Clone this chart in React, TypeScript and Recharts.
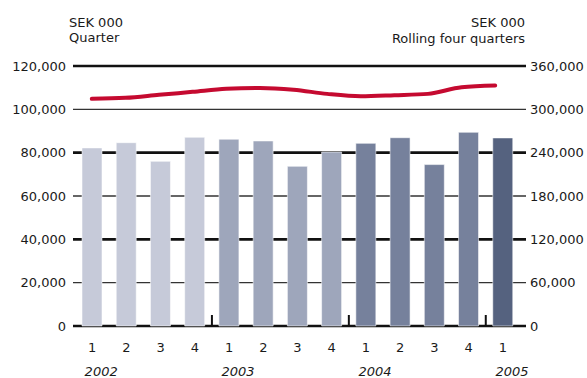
import React from "react";
import { ComposedChart, Bar, Line, XAxis, YAxis, CartesianGrid, Cell } from "recharts";

const periods = [
  "2002-1", "2002-2", "2002-3", "2002-4",
  "2003-1", "2003-2", "2003-3", "2003-4",
  "2004-1", "2004-2", "2004-3", "2004-4",
  "2005-1",
];
const quarterLabels = ["1", "2", "3", "4", "1", "2", "3", "4", "1", "2", "3", "4", "1"];
const yearLabels = ["2002", "", "", "", "2003", "", "", "", "2004", "", "", "", "2005"];
const quarterValues = [82200, 84600, 76000, 87100, 86200, 85400, 73700, 80300, 84300, 86900, 74500, 89400, 86800];
const rollingValues = [314500, 315900, 320100, 324200, 328400, 329700, 327200, 321400, 318100, 319500, 321400, 330600, 333000];
const leftTicks = [0, 20000, 40000, 60000, 80000, 100000, 120000];
const rightTicks = [0, 60000, 120000, 180000, 240000, 300000, 360000];

const YEAR_COLORS: Record<string, string> = {
  "2002": "#c6cad9",
  "2003": "#9ea6bb",
  "2004": "#76819c",
  "2005": "#55627f",
};

const FONT = "'DejaVu Sans', sans-serif";
const INK = "#1a1a1a";
const BAR_SIZE = 20;

const data = periods.map((p, i) => ({
  period: p,
  quarter: quarterValues[i],
  rolling: rollingValues[i],
}));

const fmt = (v: number) => v.toLocaleString("en-US");

function GridLine(props: any) {
  const { x1, x2, y1, y2, index } = props;
  const bold = index % 2 === 0;
  return (
    <line
      key={`g-${index}`}
      x1={x1} x2={x2} y1={y1} y2={y2}
      stroke={bold ? "#111" : "#333"}
      strokeWidth={bold ? 2.6 : 1.3}
    />
  );
}

function QuarterTick({ x, y, payload }: any) {
  const i = periods.indexOf(payload.value);
  const half = typeof payload.offset === "number" && payload.offset > 0 ? payload.offset : 17;
  return (
    <g>
      {quarterLabels[i] === "1" && i > 0 && (
        <line x1={x - half} x2={x - half} y1={y} y2={y - 11} stroke="#111" strokeWidth={2} />
      )}
      <text x={x} y={y + 26} textAnchor="middle" fontSize={13} fontFamily={FONT} fill={INK}>
        {quarterLabels[i]}
      </text>
      {yearLabels[i] && (
        <text x={x - BAR_SIZE / 2 + 2.5} y={y + 50} textAnchor="start" fontSize={13}
          fontFamily={FONT} fontStyle="italic" fill={INK}>
          {yearLabels[i]}
        </text>
      )}
    </g>
  );
}

export default function App() {
  const tickStyle = { fontSize: 13, fill: INK, fontFamily: FONT };
  return (
    <div style={{ position: "absolute", left: 0, top: 0, width: 587, height: 378, background: "#fff" }}>
      <ComposedChart width={587} height={378} data={data} margin={{ top: 66, right: 0, bottom: 0, left: 0 }}>
        <CartesianGrid vertical={false} horizontal={GridLine} xAxisId="main" yAxisId="left" />
        <XAxis xAxisId="line" dataKey="period" type="category" scale="band" hide height={0}
          padding={{ left: 2, right: 14 }} />
        <XAxis xAxisId="main" dataKey="period" type="category" scale="band" interval={0}
          padding={{ left: 2, right: 6 }} height={52} axisLine={false} tickLine={false}
          tickSize={0} tickMargin={0} tick={<QuarterTick />} />
        <YAxis yAxisId="left" domain={[0, 120000]} ticks={leftTicks} width={73}
          axisLine={false} tickLine={false} tickSize={0} tickMargin={7}
          tickFormatter={fmt} tick={tickStyle} interval={0} />
        <YAxis yAxisId="right" orientation="right" domain={[0, 360000]} ticks={rightTicks} width={61}
          axisLine={false} tickLine={false} tickSize={0} tickMargin={4}
          tickFormatter={fmt} tick={{ ...tickStyle, textAnchor: "start" }} interval={0} />
        <Bar xAxisId="main" yAxisId="left" dataKey="quarter" barSize={BAR_SIZE}
          stroke="rgba(255,255,255,0.55)" strokeWidth={1} isAnimationActive={false}>
          {periods.map((p, i) => (
            <Cell key={i} fill={YEAR_COLORS[p.slice(0, 4)]} />
          ))}
        </Bar>
        <Line xAxisId="line" yAxisId="right" dataKey="rolling" type="monotone" stroke="#c50a30"
          strokeWidth={4} strokeLinecap="round" dot={false} activeDot={false} isAnimationActive={false} />
      </ComposedChart>
      <svg width={587} height={60} style={{ position: "absolute", left: 0, top: 0, pointerEvents: "none" }}>
        <g fontFamily={FONT} fontSize={13} fill={INK}>
          <text x={69} y={26.5}>SEK 000</text>
          <text x={69} y={42}>Quarter</text>
          <text x={525} y={26.5} textAnchor="end">SEK 000</text>
          <text x={525} y={42.5} textAnchor="end">Rolling four quarters</text>
        </g>
      </svg>
    </div>
  );
}
